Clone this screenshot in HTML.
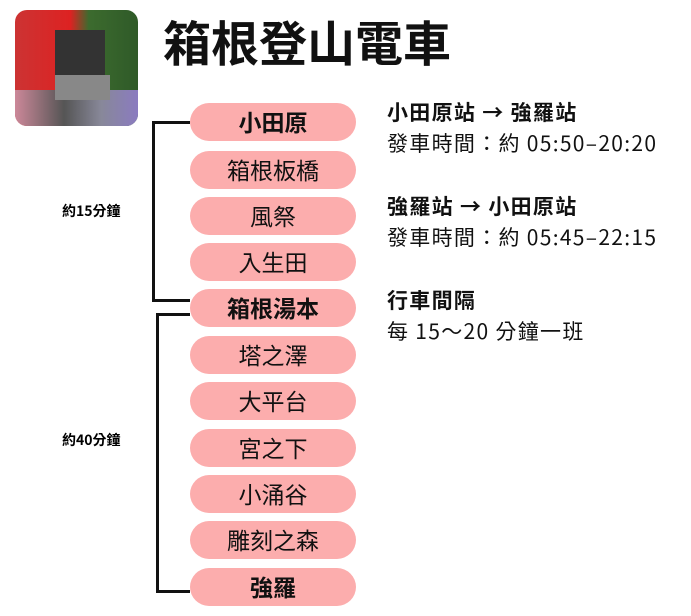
<html><head><style>
body{margin:0;width:691px;height:616px;background:#fff;position:relative;font-family:"Noto Sans CJK TC",sans-serif;overflow:hidden}
.p{position:absolute;left:190px;width:166px;height:38px;border-radius:19px;background:#fcadad;text-align:center;line-height:36px;font-size:23px;color:#111}
.b{font-weight:bold}
.l{position:absolute;background:#111}
.t{position:absolute;left:387px;font-size:21px;letter-spacing:1.3px;line-height:26px;color:#111;white-space:nowrap}
</style></head><body>
<div style="position:absolute;left:15px;top:10px;width:123px;height:116px;border-radius:12px;overflow:hidden;background:linear-gradient(90deg,#c33 0%,#d22 45%,#3c6b2e 60%,#2f5a28 100%)">
<div style="position:absolute;left:0;top:80px;width:123px;height:36px;background:linear-gradient(90deg,#c89 0%,#555 40%,#889 70%,#8a7bc0 100%)"></div>
<div style="position:absolute;left:40px;top:20px;width:50px;height:45px;background:#333"></div>
<div style="position:absolute;left:40px;top:65px;width:55px;height:25px;background:#888"></div>
</div>
<div style="position:absolute;left:163px;top:8px;font-size:48px;line-height:64px;font-weight:bold;color:#111">箱根登山電車</div>
<div class="l" style="left:152px;top:121px;width:38px;height:3px"></div>
<div class="l" style="left:152px;top:121px;width:3px;height:181px"></div>
<div class="l" style="left:152px;top:299px;width:38px;height:3px"></div>
<div class="l" style="left:156px;top:313px;width:34px;height:3px"></div>
<div class="l" style="left:156px;top:313px;width:3px;height:280px"></div>
<div class="l" style="left:156px;top:590px;width:34px;height:3px"></div>
<div style="position:absolute;left:62px;top:201px;font-size:14px;line-height:20px;font-weight:bold">約15分鐘</div>
<div style="position:absolute;left:62px;top:430px;font-size:14px;line-height:20px;font-weight:bold">約40分鐘</div>
<div class="p b" style="top:103px">小田原</div>
<div class="p" style="top:151px">箱根板橋</div>
<div class="p" style="top:197px">風祭</div>
<div class="p" style="top:243px">入生田</div>
<div class="p b" style="top:289px">箱根湯本</div>
<div class="p" style="top:336px">塔之澤</div>
<div class="p" style="top:382px">大平台</div>
<div class="p" style="top:429px">宮之下</div>
<div class="p" style="top:475px">小涌谷</div>
<div class="p" style="top:521px">雕刻之森</div>
<div class="p b" style="top:568px">強羅</div>
<div class="t b" style="top:99px">小田原站 → 強羅站</div>
<div class="t" style="top:130px">發車時間：約 05:50–20:20</div>
<div class="t b" style="top:193px">強羅站 → 小田原站</div>
<div class="t" style="top:224px">發車時間：約 05:45–22:15</div>
<div class="t b" style="top:287px">行車間隔</div>
<div class="t" style="top:318px">每 15～20 分鐘一班</div>
</body></html>
